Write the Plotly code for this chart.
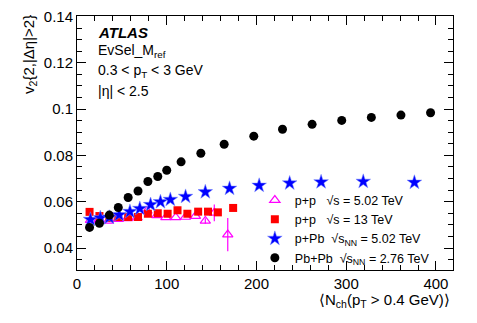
import plotly.graph_objects as go

# p+p 5.02 TeV (open magenta triangles)
pp5_n = [15, 25, 35, 46, 56, 67, 78, 89, 99, 110, 121, 132, 143, 153, 168]
pp5_v = [0.0520, 0.0522, 0.0517, 0.0525, 0.0528, 0.0531, 0.0560, 0.0541, 0.0532, 0.0532, 0.0534, 0.0538, 0.0517, 0.0552, 0.0458]
pp5_e = [0, 0, 0, 0, 0, 0, 0, 0, 0, 0, 0, 0, 0.0012, 0.0036, 0.0072]

# p+p 13 TeV (red squares)
pp13_n = [14, 25, 36, 46, 57, 68, 79, 90, 101, 112, 123, 135, 146, 157, 174]
pp13_v = [0.0556, 0.0538, 0.0530, 0.0534, 0.0534, 0.0534, 0.0548, 0.0550, 0.0548, 0.0563, 0.0548, 0.0557, 0.0557, 0.0554, 0.0573]

# p+Pb 5.02 TeV (blue stars)
ppb_n = [15, 26, 36, 47, 59, 70, 82, 93, 104, 121, 143, 170, 203, 237, 272, 319, 376]
ppb_v = [0.0523, 0.0530, 0.0532, 0.0543, 0.0557, 0.0570, 0.0587, 0.0599, 0.0609, 0.0622, 0.0642, 0.0657, 0.0670, 0.0680, 0.0685, 0.0687, 0.0683]

# Pb+Pb 2.76 TeV (black circles)
pbpb_n = [14, 25, 36, 46, 57, 68, 79, 90, 100, 116, 138, 164, 197, 229, 262, 295, 328, 361, 394]
pbpb_v = [0.0489, 0.0507, 0.0542, 0.0575, 0.0618, 0.0646, 0.0687, 0.0709, 0.0736, 0.0772, 0.0809, 0.0848, 0.0883, 0.0913, 0.0934, 0.0951, 0.0964, 0.0974, 0.0984]

FONT = "Liberation Sans, Arial, sans-serif"

fig = go.Figure()

fig.add_trace(go.Scatter(
    x=pp5_n, y=pp5_v, mode="markers",
    name="p+p   √s = 5.02 TeV",
    marker=dict(symbol="triangle-up-open", size=9, color="#ff00ff", line=dict(width=1.2)),
    error_y=dict(type="data", array=pp5_e, color="#ff00ff", thickness=1.2, width=0),
))
fig.add_trace(go.Scatter(
    x=pp13_n, y=pp13_v, mode="markers",
    name="p+p   √s = 13 TeV",
    marker=dict(symbol="square", size=8, color="#ff0000"),
))
fig.add_trace(go.Scatter(
    x=ppb_n, y=ppb_v, mode="markers",
    name="p+Pb  √s<sub>NN</sub> = 5.02 TeV",
    marker=dict(symbol="star", size=11, color="#0000ff",
                line=dict(width=1, color="rgba(120,140,255,0.5)")),
))
fig.add_trace(go.Scatter(
    x=pbpb_n, y=pbpb_v, mode="markers",
    name="Pb+Pb  √s<sub>NN</sub> = 2.76 TeV",
    marker=dict(symbol="circle", size=9, color="black"),
))

axis_common = dict(
    showline=True, linecolor="black", linewidth=1, mirror="ticks",
    ticks="inside", ticklen=9, tickcolor="black", showgrid=False, zeroline=False,
    tickfont=dict(size=15, color="black", family=FONT), automargin=False,
)

fig.update_xaxes(
    range=[0, 419], dtick=100, tick0=0,
    minor=dict(ticks="inside", ticklen=5, dtick=20, tickcolor="black"),
    **axis_common,
)
fig.update_yaxes(
    range=[0.0305, 0.1402], tickvals=[0.04, 0.06, 0.08, 0.1, 0.12, 0.14],
    ticktext=["0.04", "0.06", "0.08", "0.1", "0.12", "0.14"],
    minor=dict(ticks="inside", ticklen=5, dtick=0.005, tick0=0.04, tickcolor="black"),
    **axis_common,
)

# text labels: (x, y, text, size, xanchor, yanchor, angle)
notes = [
    (0.05, 0.935, "<b><i>ATLAS</i></b>", 15, "left", "middle", 0),
    (0.05, 0.862, "EvSel_M<sub>ref</sub>", 14, "left", "middle", 0),
    (0.05, 0.782, "0.3 < p<sub>T</sub> < 3 GeV", 14, "left", "middle", 0),
    (0.05, 0.704, "|η| < 2.5", 14, "left", "middle", 0),
    (0.998, -0.122, "⟨N<sub>ch</sub>(p<sub>T</sub> > 0.4 GeV)⟩", 15, "right", "middle", 0),
    (-0.125, 1.01, "v<sub>2</sub>{2,|Δη|>2}", 15, "center", "top", -90),
]
fig.update_layout(
    annotations=[dict(x=x, y=y, xref="paper", yref="paper", text=t, showarrow=False,
                      xanchor=xa, yanchor=ya, textangle=a,
                      font=dict(size=s, family=FONT, color="black"))
                 for x, y, t, s, xa, ya, a in notes],
    width=477, height=323,
    margin=dict(l=77, r=24, t=16, b=53, autoexpand=False),
    plot_bgcolor="white", paper_bgcolor="white",
    font=dict(family=FONT, color="black"),
    legend=dict(x=0.473, y=0.333, xanchor="left", yanchor="top", bgcolor="rgba(0,0,0,0)",
                font=dict(size=12.5, family=FONT, color="black"), tracegroupgap=0,
                itemwidth=30),
    showlegend=True,
)

# drop the default page margin so the figure sits at the window's corner
fig.write_html("out.html", config={"displayModeBar": False},
               post_script="document.body.style.margin='0';")
